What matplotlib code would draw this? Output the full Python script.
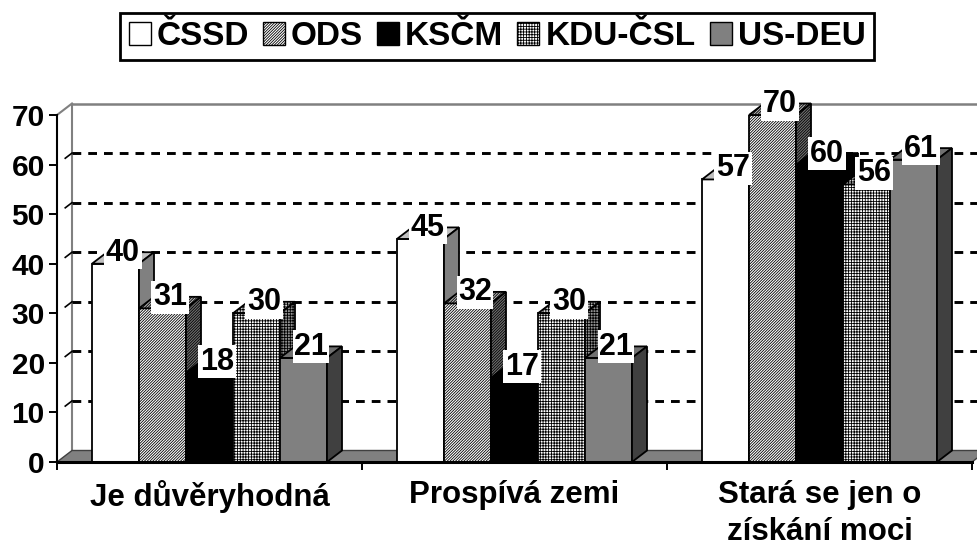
"""Excel-style 3D clustered bar chart: party trust survey."""

import matplotlib
matplotlib.use("Agg")
import matplotlib.pyplot as plt
from matplotlib.patches import Polygon, Patch

plt.rcParams["font.family"] = ["Liberation Sans", "DejaVu Sans"]
plt.rcParams["font.weight"] = "bold"
plt.rcParams["hatch.linewidth"] = 0.6
plt.rcParams["hatch.color"] = "black"

categories = ["Je důvěryhodná", "Prospívá zemi", "Stará se jen o\nzískání moci"]
parties = ["ČSSD", "ODS", "KSČM", "KDU-ČSL", "US-DEU"]
cssd = [40, 45, 57]
ods = [31, 32, 70]
kscm = [18, 17, 60]
kdu = [30, 30, 56]
usdeu = [21, 21, 61]
yticks = [0, 10, 20, 30, 40, 50, 60, 70]

series = [cssd, ods, kscm, kdu, usdeu]
# front, top, side colour and hatch per party
styles = [
    ("#ffffff", "#c0c0c0", "#808080", None),
    ("#ffffff", "#b0b0b0", "#707070", "////////////"),
    ("#000000", "#000000", "#000000", None),
    ("#ffffff", "#d0d0d0", "#909090", "++++++"),
    ("#808080", "#707070", "#404040", None),
]

W, H = 978, 548
fig = plt.figure(figsize=(W / 100, H / 100), dpi=100, facecolor="white")
ax = fig.add_axes([57 / W, 86 / H, 915 / W, 347 / H])
ax.set_xlim(0, 3)
ax.set_ylim(0, 70)
ax.patch.set_visible(False)

# depth offset of the 3D projection (data units)
DX = 15 / 305
DY = 11.5 * 70 / 347
BW = 47 / 305
X0 = 35 / 305

# floor and back wall
ax.add_patch(Polygon([(0, 0), (3, 0), (3 + DX, DY), (DX, DY)], closed=True,
                     fc="#808080", ec="#404040", lw=1, zorder=2, clip_on=False))
ax.plot([DX, DX], [DY, 70 + DY], color="#808080", lw=1.5, zorder=1, clip_on=False)
ax.plot([0, DX], [70, 70 + DY], color="#808080", lw=1.5, zorder=1, clip_on=False)
ax.plot([DX, 3 + DX], [70 + DY, 70 + DY], color="#808080", lw=1.8, zorder=1, clip_on=False)
for v in yticks[1:-1]:
    ax.plot([DX, 3 + DX], [v + DY, v + DY], color="black", lw=2.1,
            dashes=(3, 2.4), zorder=1, clip_on=False)
    ax.plot([DX * 0.55, DX], [v + DY * 0.55, v + DY], color="black", lw=1.2,
            zorder=1, clip_on=False)

# bars: front face, top, side
for s, (vals, (fc, tc, sc, hatch)) in enumerate(zip(series, styles)):
    xs = [g + X0 + s * BW for g in range(len(categories))]
    base = 10 + 3 * s
    ax.bar(xs, vals, width=BW, align="edge", color=fc, edgecolor="black",
           linewidth=1.3, hatch=hatch, zorder=base)
    for x, v in zip(xs, vals):
        top = Polygon([(x, v), (x + BW, v), (x + BW + DX, v + DY), (x + DX, v + DY)],
                      closed=True, fc=tc, ec="black", lw=1.3, hatch=hatch,
                      zorder=base + 1, clip_on=False)
        side = Polygon([(x + BW, 0), (x + BW + DX, DY), (x + BW + DX, v + DY), (x + BW, v)],
                       closed=True, fc=sc, ec="black", lw=1.3, hatch=hatch,
                       zorder=base + 2, clip_on=False)
        ax.add_patch(top)
        ax.add_patch(side)
        ax.text(x + BW / 2 + DX / 2, v + 0.6, str(v), ha="center", va="baseline",
                fontsize=22, fontweight="bold", zorder=100,
                bbox=dict(boxstyle="square,pad=0.05", fc="white", ec="none"))

# axes
for side in ["top", "right"]:
    ax.spines[side].set_visible(False)
ax.spines["left"].set_linewidth(1.5)
ax.spines["bottom"].set_linewidth(2.2)
ax.spines["bottom"].set_zorder(60)
ax.spines["left"].set_zorder(60)

ax.set_yticks(yticks)
ax.set_yticklabels([str(t) for t in yticks], fontsize=21.5, fontweight="bold")
ax.tick_params(axis="y", direction="out", length=5.8, width=1.4, pad=3)

ax.set_xticks([0.5, 1.5, 2.5])
ax.set_xticklabels(categories, fontsize=22.5, fontweight="bold", linespacing=1.3)
ax.set_xticks([0, 1, 2, 3], minor=True)
ax.tick_params(axis="x", which="major", length=0, pad=13)
ax.tick_params(axis="x", which="minor", direction="out", length=5.8, width=1.4)

# legend
handles = [Patch(facecolor=fc, edgecolor="black", hatch=hatch, lw=1)
           for fc, tc, sc, hatch in styles]
leg = fig.legend(handles, parties, loc="center", bbox_to_anchor=(497 / W, 1 - 36.5 / H),
                 ncol=5, prop={"weight": "bold", "size": 24}, frameon=True,
                 fancybox=False, edgecolor="black", framealpha=1,
                 handlelength=0.66, handleheight=0.66, handletextpad=0.18,
                 columnspacing=0.42, borderpad=0.25, borderaxespad=0)
leg.get_frame().set_linewidth(2)

fig.savefig("out.png", dpi=100, facecolor="white")
